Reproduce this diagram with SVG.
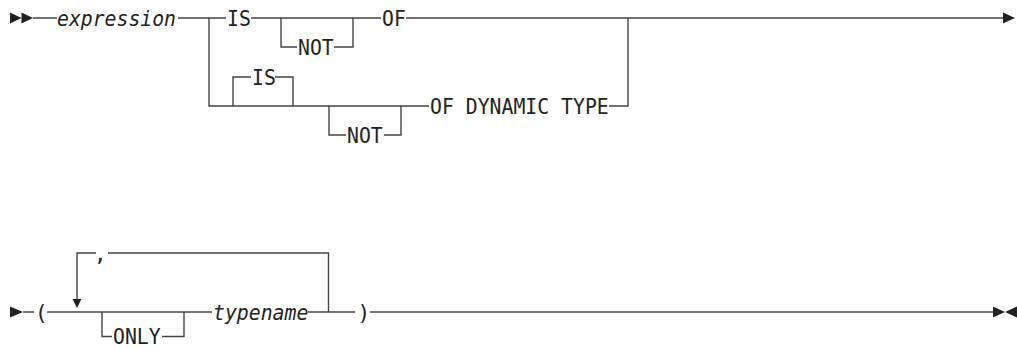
<svg xmlns="http://www.w3.org/2000/svg" width="1017" height="348" viewBox="0 0 1017 348">
<style>
.l{fill:none;stroke:#444;stroke-width:1.4}
.t{font-family:"DejaVu Sans Mono","Liberation Mono",monospace;font-size:21px;fill:#222}
.i{font-style:italic}
.a{fill:#222}
</style>
<rect width="1017" height="348" fill="#fff"/>
<g id="connectors">
<path class="l" d="M33 18H57M178 18H226M251 18H381M406 18H1003"/>
<path class="l" d="M209 18V106H429M609 106H628V18"/>
<path class="l" d="M281 18V47H297M334 47H353V18"/>
<path class="l" d="M233 106V77H251M275 77H293V106"/>
<path class="l" d="M329 106V135H346M384 135H401V106"/>
<path class="l" d="M23 312H34M47 312H212M308 312H355M370 312H993"/>
<path class="l" d="M77 300V253H96M108 253H328.5V312"/>
<path class="l" d="M102 312V336.5H112M162 336.5H184V312"/>
</g>
<g id="start1"><polygon class="a" points="10,12.5 21.5,18 10,23.5"/><polygon class="a" points="21.5,12.5 33,18 21.5,23.5"/></g>
<g id="end1"><polygon class="a" points="1003,12.5 1015,18 1003,23.5"/></g>
<g id="start2"><polygon class="a" points="10,306.5 23,312 10,317.5"/></g>
<g id="end2"><polygon class="a" points="993,306.5 1005,312 993,317.5"/><polygon class="a" points="1017,306.5 1005,312 1017,317.5"/></g>
<g id="loopArrow"><polygon class="a" points="72.5,299 81.5,299 77,308"/></g>
<g id="expression"><text class="t i" x="57" y="25.5" textLength="119" lengthAdjust="spacingAndGlyphs">expression</text></g>
<g id="is1"><text class="t" x="227" y="25.5" textLength="23.8" lengthAdjust="spacingAndGlyphs">IS</text></g>
<g id="not1"><text class="t" x="298" y="54.5" textLength="35.7" lengthAdjust="spacingAndGlyphs">NOT</text></g>
<g id="of"><text class="t" x="382" y="25.5" textLength="23.8" lengthAdjust="spacingAndGlyphs">OF</text></g>
<g id="is2"><text class="t" x="252" y="84.5" textLength="23.8" lengthAdjust="spacingAndGlyphs">IS</text></g>
<g id="not2"><text class="t" x="347" y="142.5" textLength="35.7" lengthAdjust="spacingAndGlyphs">NOT</text></g>
<g id="ofdyn"><text class="t" x="430" y="113.5" textLength="178.8" lengthAdjust="spacingAndGlyphs">OF DYNAMIC TYPE</text></g>
<g id="lparen"><text class="t" x="35" y="319.5">(</text></g>
<g id="comma"><text class="t" x="94" y="260.5">,</text></g>
<g id="only"><text class="t" x="113" y="344" textLength="47.7" lengthAdjust="spacingAndGlyphs">ONLY</text></g>
<g id="typename"><text class="t i" x="213" y="319.5" textLength="95.4" lengthAdjust="spacingAndGlyphs">typename</text></g>
<g id="rparen"><text class="t" x="357.5" y="319.5">)</text></g>
</svg>
